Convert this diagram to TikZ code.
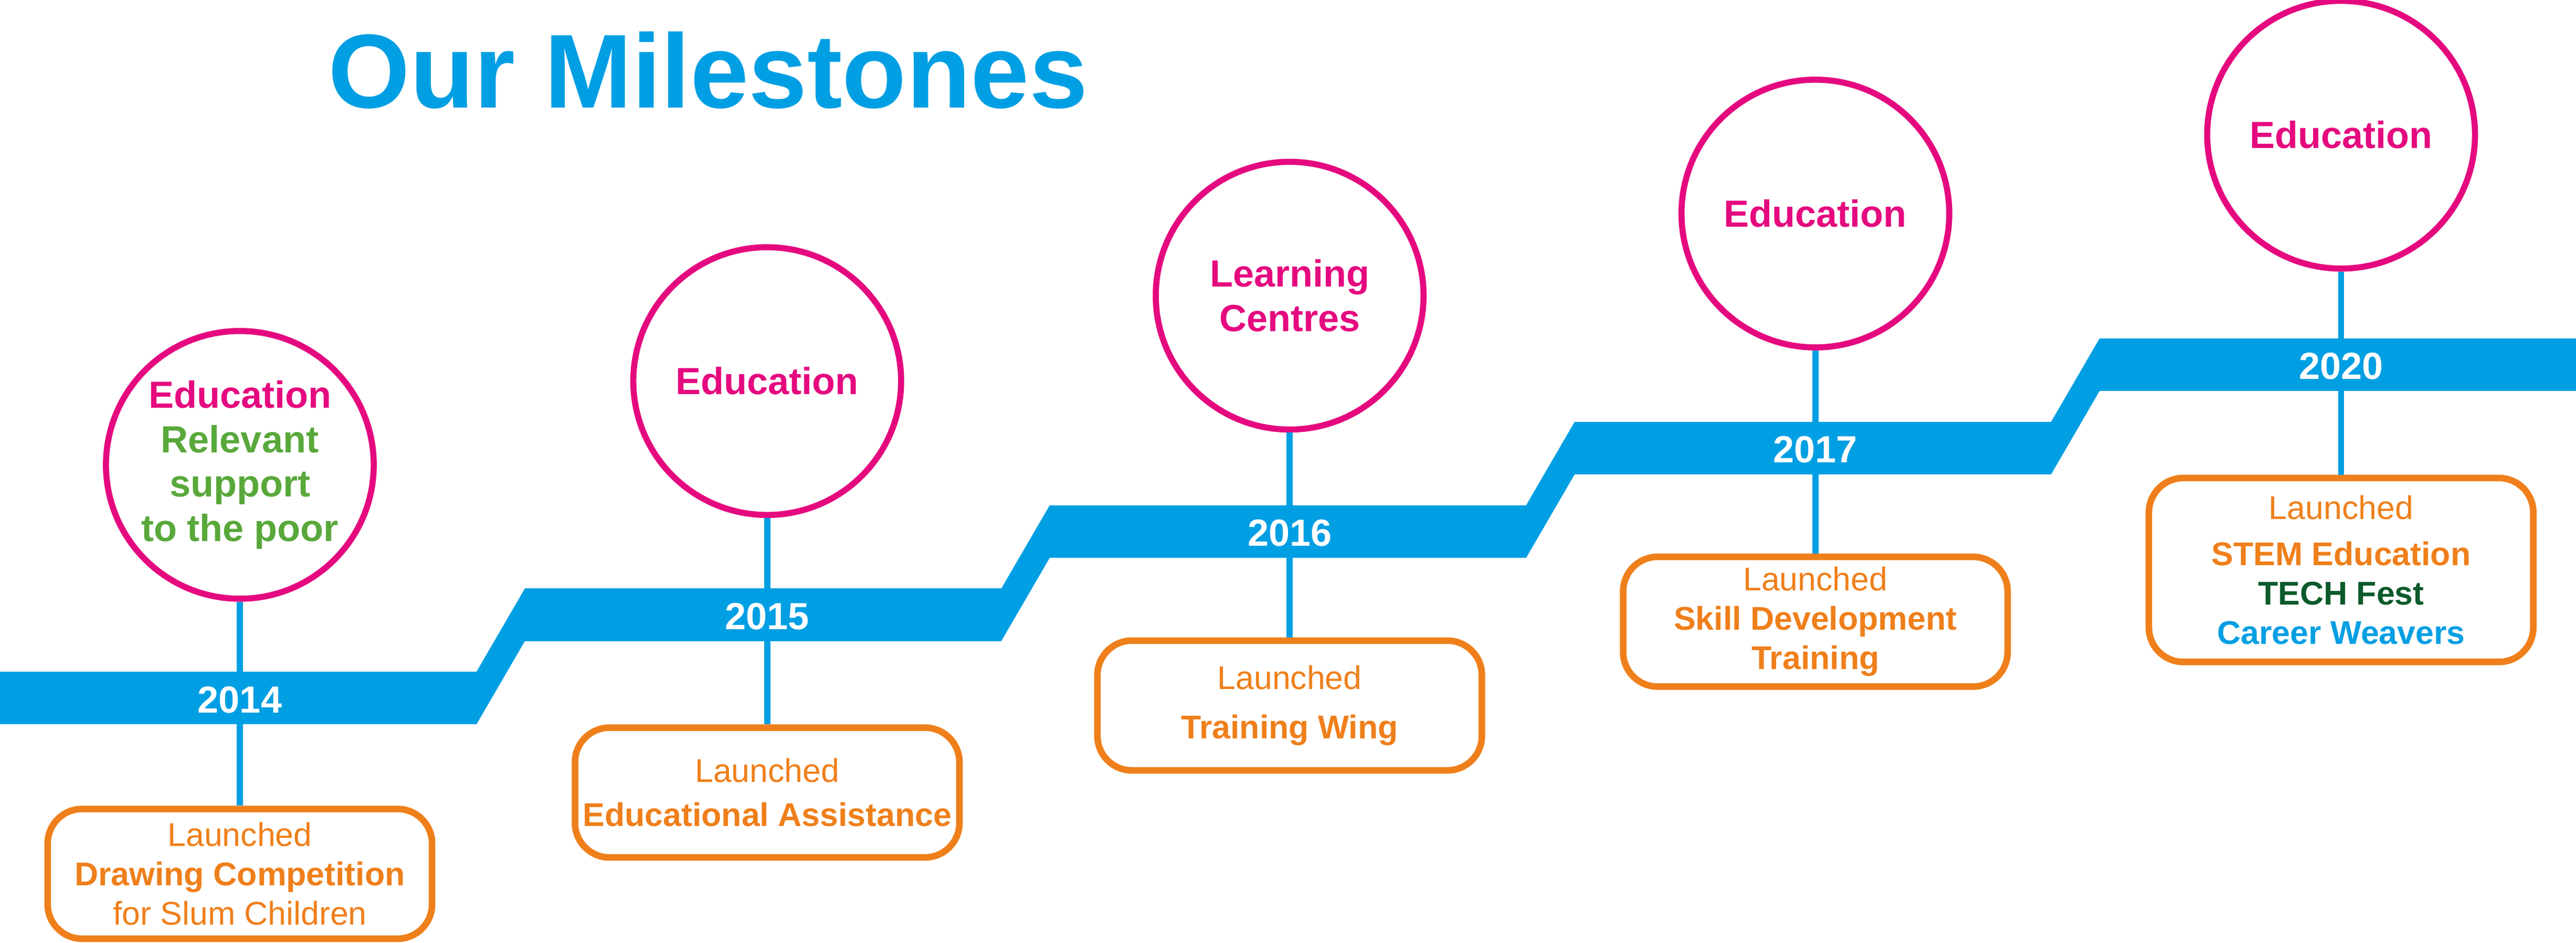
\documentclass[tikz,border=0pt]{standalone}
\usepackage{fontspec}
\setmainfont{Liberation Sans}
\definecolor{mblue}{HTML}{009FE3}
\definecolor{mpink}{HTML}{E5097F}
\definecolor{morange}{HTML}{EF7F1A}
\definecolor{mgreen}{HTML}{58A83A}
\definecolor{mdark}{HTML}{0B5A2B}
\begin{document}
\begin{tikzpicture}[x=1pt,y=-1pt,
    goal/.style = {circle,draw=mpink,line width=3.7pt,minimum size=163pt,inner sep=0pt,align=center,text=mpink,font=\fontsize{23}{27}\selectfont\bfseries},
    launch/.style = {rectangle,rounded corners=21pt,draw=morange,line width=4pt,minimum width=234pt,minimum height=79pt,inner sep=2pt,align=center,text=morange,font=\fontsize{20}{24}\selectfont},
    stem/.style = {draw=mblue,line width=3.8pt},
    year/.style = {text=white,font=\fontsize{23}{27}\selectfont\bfseries}]
\useasboundingbox (0,0) rectangle (1568,574);
\node[anchor=base,text=mblue,font=\fontsize{64}{70}\selectfont\bfseries] (title) at (431,65.5) {Our Milestones};
\node[goal] (c0) at (146,283) {Education\\\textcolor{mgreen}{Relevant}\\\textcolor{mgreen}{support}\\\textcolor{mgreen}{to the poor}};
\node[goal] (c1) at (467,232) {Education};
\node[goal] (c2) at (785,180) {Learning\\Centres};
\node[goal] (c3) at (1105,130) {Education};
\node[goal] (c4) at (1425,82) {Education};
\node[launch] (b0) at (146,532) {Launched\\\textbf{Drawing Competition}\\for Slum Children};
\node[launch] (b1) at (467,482.5) {Launched\\[3pt]\textbf{Educational Assistance}};
\node[launch] (b2) at (785,429.5) {Launched\\[6pt]\textbf{Training Wing}};
\node[launch] (b3) at (1105,378.5) {Launched\\\textbf{Skill Development}\\\textbf{Training}};
\node[launch,minimum height=112pt] (b4) at (1425,347) {Launched\\[4pt]\textbf{STEM Education}\\\textbf{\textcolor{mdark}{TECH Fest}}\\\textbf{\textcolor{mblue}{Career Weavers}}};
\foreach \j in {0,...,4}
    \draw[stem] (c\j.south) -- (b\j.north);
\foreach \j in {0,...,4}
    \fill[mblue] (\j*319.5,409-\j*50.75) rectangle ++(290,32);
\foreach \j in {0,...,3}
    \fill[mblue] (\j*319.5+290,409-\j*50.75) -- ++(29.5,-50.75) -- ++(0,32) -- ++(-29.5,50.75) -- cycle;
\foreach \y/\x [count=\j from 0] in {2014/146,2015/467,2016/785,2017/1105,2020/1425}
    \node[year] (y\y) at (\x,426-\j*50.75) {\y};
\end{tikzpicture}
\end{document}
